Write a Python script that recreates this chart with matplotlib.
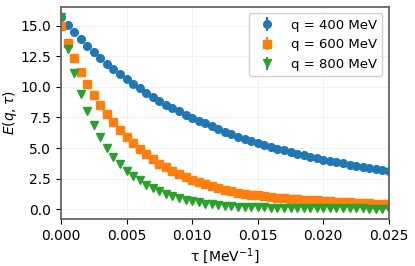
import numpy as np
import matplotlib
matplotlib.use("Agg")
import matplotlib.pyplot as plt

tau = [i * 0.0005 for i in range(51)]

E_400 = [15.67, 15.02, 14.43, 13.87, 13.33, 12.82, 12.33, 11.88, 11.44, 11.03,
         10.62, 10.25, 9.88, 9.53, 9.19, 8.85, 8.55, 8.28, 8.02, 7.74,
         7.49, 7.25, 7.02, 6.78, 6.55, 6.33, 6.13, 5.93, 5.75, 5.58,
         5.42, 5.25, 5.09, 4.95, 4.81, 4.67, 4.53, 4.40, 4.29, 4.17,
         4.06, 3.97, 3.86, 3.76, 3.66, 3.56, 3.46, 3.37, 3.28, 3.19, 3.10]

E_600 = [14.94, 13.57, 12.31, 11.20, 10.20, 9.30, 8.49, 7.75, 7.09, 6.49,
         5.90, 5.38, 4.93, 4.50, 4.09, 3.74, 3.45, 3.15, 2.88, 2.64,
         2.42, 2.22, 2.05, 1.88, 1.73, 1.59, 1.47, 1.37, 1.29, 1.21,
         1.14, 1.08, 1.02, 0.97, 0.92, 0.88, 0.84, 0.80, 0.76, 0.73,
         0.70, 0.67, 0.64, 0.61, 0.58, 0.55, 0.52, 0.50, 0.47, 0.45, 0.42]

E_800 = [15.67, 13.06, 11.09, 9.42, 8.06, 6.88, 5.87, 5.03, 4.31, 3.72,
         3.17, 2.75, 2.37, 2.02, 1.72, 1.48, 1.27, 1.07, 0.91, 0.78,
         0.67, 0.57, 0.48, 0.41, 0.35, 0.30, 0.26, 0.23, 0.21, 0.19,
         0.17, 0.16, 0.15, 0.14, 0.13, 0.12, 0.12, 0.11, 0.11, 0.10,
         0.10, 0.09, 0.09, 0.09, 0.08, 0.08, 0.08, 0.07, 0.07, 0.07, 0.07]

err_400 = [0.08] * 51
err_600 = [0.10] * 51
err_800 = [0.08] * 51

labels = ["q = 400 MeV", "q = 600 MeV", "q = 800 MeV"]

plt.rcParams['font.size'] = 10
fig = plt.figure(figsize=(4.15, 2.66), dpi=100)
ax = fig.add_axes([0.147, 0.176, 0.790, 0.799])

ax.errorbar(tau, E_400, yerr=err_400, fmt='o', color='#1f77b4', ms=5.5, label=labels[0])
ax.errorbar(tau, E_600, yerr=err_600, fmt='s', color='#ff7f0e', ms=5.2, label=labels[1])
ax.errorbar(tau, E_800, yerr=err_800, fmt='v', color='#2ca02c', ms=5.5, label=labels[2])

ax.set_xlim(0, 0.025)
ax.set_xticks([0.0, 0.005, 0.010, 0.015, 0.020, 0.025])
ax.set_xticklabels(["0.000", "0.005", "0.010", "0.015", "0.020", "0.025"])
ax.set_yticks([0.0, 2.5, 5.0, 7.5, 10.0, 12.5, 15.0])
ax.grid(True, color='#e6e6e6', linewidth=0.6, alpha=0.6)
ax.set_xlabel("τ [MeV$^{-1}$]", labelpad=2)
ax.set_ylabel("$E(q,\\tau)$", labelpad=1)
for s in ax.spines.values():
    s.set_color('#666666')
    s.set_linewidth(1.3)
ax.legend(loc='upper right', framealpha=0.9, fontsize=9.5)

fig.savefig("out.png", dpi=100)
